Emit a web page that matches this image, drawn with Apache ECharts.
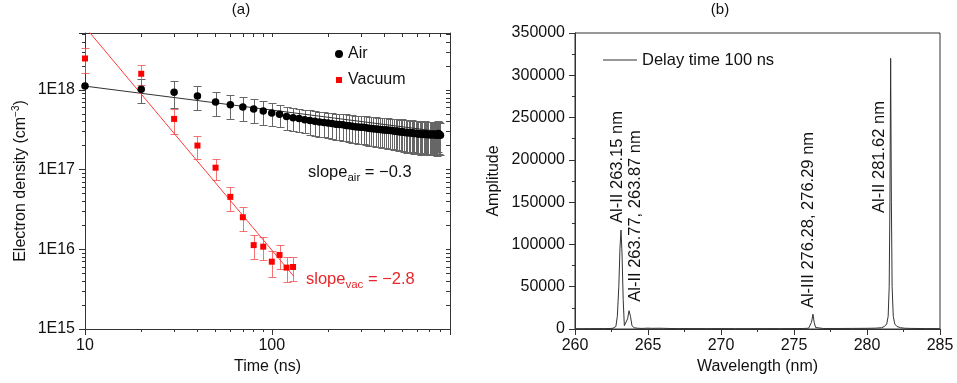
<!DOCTYPE html>
<html><head><meta charset="utf-8">
<script src="https://cdn.jsdelivr.net/npm/echarts@6/dist/echarts.min.js"></script>
<style>html,body{margin:0;padding:0;background:#fff}#c{width:957px;height:383px}</style>
</head><body><div id="c"></div>
<script>
// ---------- Panel (a): electron density vs time ----------
const timesAir = [10,20,30,40,50,60,70,80,90,100,110,120,130,140,150,160,170,180,190,200,
  210,220,230,240,250,260,270,280,290,300,310,320,330,340,350,360,370,380,390,400,
  410,420,430,440,450,460,470,480,490,500,510,520,530,540,550,560,570,580,590,600,
  610,620,630,640,650,660,670,680,690,700,710,720,730,740,750,760,770,780,790,800];
// electron density in units of 1E18 cm^-3
const airDensity18 = [1.12,1.02,0.94,0.84,0.71,0.655,0.613,0.58,0.547,0.516,
  0.497,0.464,0.45,0.438,0.425,0.415,0.405,0.398,0.39,0.385,
  0.38,0.372,0.37,0.366,0.36,0.356,0.352,0.346,0.344,0.34,
  0.34,0.336,0.332,0.33,0.326,0.324,0.322,0.32,0.318,0.316,
  0.314,0.312,0.31,0.31,0.306,0.304,0.305,0.3,0.298,0.3,
  0.296,0.294,0.29,0.293,0.288,0.29,0.286,0.284,0.287,0.282,
  0.28,0.284,0.278,0.28,0.276,0.282,0.278,0.274,0.28,0.276,
  0.272,0.278,0.274,0.28,0.272,0.276,0.27,0.285,0.278,0.27];
const airErr18 = [0,0.34,0.35,0.28,0.24,0.22,0.20,0.19,0.18,0.165,
  0.155,0.145,0.145,0.142,0.14,0.14,0.138,0.138,0.136,0.136,
  0.135,0.135,0.134,0.134,0.134,0.133,0.133,0.132,0.132,0.132,
  0.132,0.131,0.131,0.131,0.13,0.13,0.13,0.13,0.13,0.13,
  0.129,0.129,0.129,0.128,0.128,0.128,0.128,0.127,0.127,0.127,
  0.127,0.126,0.126,0.126,0.125,0.125,0.125,0.125,0.124,0.124,
  0.124,0.124,0.123,0.123,0.123,0.123,0.122,0.122,0.122,0.122,
  0.121,0.121,0.121,0.12,0.12,0.12,0.12,0.12,0.12,0.118];
const timesVac = [10,20,30,40,50,60,70,80,90,100,110,120,130];
// electron density in units of 1E16 cm^-3
const vacDensity16 = [249,160,43.4,20.1,10.6,4.56,2.53,1.13,1.08,0.70,0.85,0.59,0.60];
const vacErr16 = [85,44,15,6.6,3.2,1.5,0.85,0.37,0.35,0.25,0.28,0.2,0.205];
// linear fits (log-log): end points
const fitAirTime = [10, 800];
const fitAirDensity = [1.12e18, 0.30e18];
const fitVacTime = [10, 131];
const fitVacDensity = [6.2e18, 4.6e15];
const xTickMinor = [20,30,40,50,60,70,80,90,200,300,400,500,600,700,800,900];
const xTickMajor = [10,100];
const yTickMajor = [1e15,1e16,1e17,1e18];
const yTickMinor = [2e15,3e15,4e15,5e15,6e15,7e15,8e15,9e15,2e16,3e16,4e16,5e16,6e16,7e16,8e16,9e16,
  2e17,3e17,4e17,5e17,6e17,7e17,8e17,9e17,2e18,3e18,4e18,5e18];

// ---------- Panel (b): spectrum ----------
const wavelength = [260,260.5,261,261.5,262,262.4,262.6,262.8,262.9,263.0,263.08,263.15,263.22,263.3,263.38,263.5,263.6,263.7,263.8,263.9,
  264.05,264.3,264.6,265.0,265.1,265.25,265.8,265.9,266.05,266.5,267,268,269,270,271,272,273,274,275,275.6,
  276.0,276.12,276.2,276.3,276.38,276.48,276.6,277,278,279,280,280.6,281.0,281.2,281.35,281.45,281.52,281.57,281.62,281.67,
  281.72,281.8,281.9,282.05,282.3,282.6,283,284,285];
const amplitude = [300,350,400,450,500,600,900,3000,15000,50000,95000,117000,90000,35000,4000,3500,12000,21600,15000,4000,
  1500,900,700,1000,1500,800,900,1400,800,600,500,500,450,450,400,400,450,450,500,600,
  900,2500,8000,17500,8000,1800,800,600,600,700,800,1000,1500,3000,6000,15000,50000,150000,320000,150000,
  50000,15000,6000,3000,1500,900,700,500,400];
const peakLabels = ['Al-II 263.15 nm','Al-II 263.77, 263.87 nm','Al-III 276.28, 276.29 nm','Al-II 281.62 nm'];

// ---------- build ----------
const FONT = '"Liberation Sans", Arial, sans-serif';
const AX = '#333';
const TXT = '#111';
const Y_MIN = 1e15, Y_MAX = 5.2e18, X_MIN = 10, X_MAX = 900;
const lg = a => a.map(v => Math.log10(v));

const airPts = timesAir.map((t,i) => [t, airDensity18[i]*1e18]);
const airErrPts = timesAir.map((t,i) => [t, airDensity18[i]*1e18, airErr18[i]*1e18]);
const vacPts = timesVac.map((t,i) => [t, vacDensity16[i]*1e16]);
const vacErrPts = timesVac.map((t,i) => [t, vacDensity16[i]*1e16, vacErr16[i]*1e16]);
const fitAir = fitAirTime.map((t,i) => [t, fitAirDensity[i]]);
const fitVac = fitVacTime.map((t,i) => [t, fitVacDensity[i]]);
const spectrum = wavelength.map((w,i) => [w, amplitude[i]]);

function errRender(color, cap) {
  return function (params, api) {
    const x = api.value(0), y = api.value(1), e = api.value(2);
    if (!(e > 0)) return null;
    const lo = Math.max(y - e, Y_MIN * 0.5);
    const p1 = api.coord([x, y + e]);
    const p2 = api.coord([x, lo]);
    const cx = Math.round(p1[0]) + 0.5;
    const y1 = Math.round(p1[1]) + 0.5, y2 = Math.round(p2[1]) + 0.5;
    const hw = cap / 2;
    const st = { stroke: color, lineWidth: 1, fill: null };
    return { type: 'group', children: [
      { type: 'line', shape: { x1: cx, y1: y1, x2: cx, y2: y2 }, style: st },
      { type: 'line', shape: { x1: cx-hw, y1: y1, x2: cx+hw, y2: y1 }, style: st },
      { type: 'line', shape: { x1: cx-hw, y1: y2, x2: cx+hw, y2: y2 }, style: st }
    ]};
  };
}

const lab = { color: TXT, fontSize: 16, fontFamily: FONT };
const noShow = { show: false };

const option = {
  animation: false,
  backgroundColor: '#fff',
  textStyle: { fontFamily: FONT },
  grid: [
    { left: 85, top: 33, width: 365, height: 296, show: false },
    { left: 575, top: 33, width: 365, height: 296, show: true, borderColor: AX, borderWidth: 1, backgroundColor: 'transparent' }
  ],
  xAxis: [
    { // 0: main log time axis
      type: 'log', gridIndex: 0, min: X_MIN, max: X_MAX, position: 'bottom',
      axisLine: { show: true, lineStyle: { color: AX, width: 1 } },
      axisTick: { show: true, inside: false, length: 6, lineStyle: { color: AX } },
      axisLabel: { ...lab, margin: 9, formatter: v => { const l = Math.log10(v); return Math.abs(l - Math.round(l)) < 1e-6 ? String(Math.round(v)) : ''; } },
      splitLine: noShow, minorTick: noShow,
      name: 'Time (ns)', nameLocation: 'middle', nameGap: 29, nameTextStyle: { ...lab }
    },
    { // 1: minor ticks bottom (log10 space)
      type: 'value', gridIndex: 0, min: Math.log10(X_MIN), max: Math.log10(X_MAX), position: 'bottom',
      axisLine: noShow, axisLabel: noShow, splitLine: noShow,
      axisTick: { show: true, inside: false, length: 3, customValues: lg(xTickMinor), lineStyle: { color: AX } }
    },
    { // 2: top mirror
      type: 'value', gridIndex: 0, min: Math.log10(X_MIN), max: Math.log10(X_MAX), position: 'top',
      axisLine: { show: true, lineStyle: { color: AX, width: 1 } }, axisLabel: noShow, splitLine: noShow,
      axisTick: { show: true, inside: true, length: 4, customValues: lg(xTickMajor.concat(xTickMinor)), lineStyle: { color: AX } }
    },
    { // 3: wavelength
      type: 'value', gridIndex: 1, min: 260, max: 285, interval: 5, position: 'bottom',
      axisLine: { show: true, lineStyle: { color: AX, width: 1 } },
      axisTick: { show: true, inside: false, length: 6, lineStyle: { color: AX } },
      minorTick: { show: true, splitNumber: 2, length: 3, lineStyle: { color: AX } },
      axisLabel: { ...lab, margin: 9, formatter: v => String(v) },
      splitLine: noShow,
      name: 'Wavelength (nm)', nameLocation: 'middle', nameGap: 30, nameTextStyle: { ...lab }
    }
  ],
  yAxis: [
    { // 0: main log density axis
      type: 'log', gridIndex: 0, min: Y_MIN, max: Y_MAX, position: 'left',
      axisLine: { show: true, lineStyle: { color: AX, width: 1 } },
      axisTick: { show: true, inside: false, length: 6, lineStyle: { color: AX } },
      axisLabel: { ...lab, margin: 10, formatter: v => { const l = Math.log10(v); return Math.abs(l - Math.round(l)) < 1e-6 ? '1E' + Math.round(l) : ''; } },
      splitLine: noShow, minorTick: noShow,
      name: '{a|Electron density (cm}{b|−3}{a|)}', nameLocation: 'middle', nameGap: 54,
      nameTextStyle: { rich: { a: { ...lab }, b: { color: TXT, fontSize: 10, fontFamily: FONT, padding: [0, 0, 10, 0] } } }
    },
    { // 1: minor ticks left
      type: 'value', gridIndex: 0, min: Math.log10(Y_MIN), max: Math.log10(Y_MAX), position: 'left',
      axisLine: noShow, axisLabel: noShow, splitLine: noShow,
      axisTick: { show: true, inside: false, length: 3, customValues: lg(yTickMinor), lineStyle: { color: AX } }
    },
    { // 2: right mirror
      type: 'value', gridIndex: 0, min: Math.log10(Y_MIN), max: Math.log10(Y_MAX), position: 'right',
      axisLine: { show: true, lineStyle: { color: AX, width: 1 } }, axisLabel: noShow, splitLine: noShow,
      axisTick: { show: true, inside: true, length: 4, customValues: lg(yTickMajor.concat(yTickMinor)), lineStyle: { color: AX } }
    },
    { // 3: amplitude
      type: 'value', gridIndex: 1, min: 0, max: 350000, interval: 50000, position: 'left',
      axisLine: { show: true, lineStyle: { color: AX, width: 1 } },
      axisTick: { show: true, inside: false, length: 6, lineStyle: { color: AX } },
      minorTick: { show: true, splitNumber: 2, length: 3, lineStyle: { color: AX } },
      axisLabel: { ...lab, margin: 10, formatter: v => String(v) },
      splitLine: noShow,
      name: 'Amplitude', nameLocation: 'middle', nameGap: 73, nameTextStyle: { ...lab }
    }
  ],
  legend: [
    {
      left: 330, top: 40, orient: 'vertical', itemGap: 8, itemWidth: 8, itemHeight: 8,
      textStyle: { ...lab, lineHeight: 18 },
      data: [
        { name: 'Air', icon: 'circle' },
        { name: 'Vacuum', icon: 'path://M0,0M8,8M1,1L7,1L7,7L1,7Z' }
      ]
    },
    {
      left: 598, top: 46, itemWidth: 34, itemHeight: 14, itemGap: 6,
      textStyle: { ...lab, fontSize: 16.5, lineHeight: 18 },
      data: [{ name: 'Delay time 100 ns', icon: 'path://M0,0L34,0L34,1L0,1Z' }]
    }
  ],
  series: [
    { name: 'airErr', type: 'custom', xAxisIndex: 0, yAxisIndex: 0, data: airErrPts,
      encode: { x: 0, y: 1 }, renderItem: errRender('#666', 8), z: 1, silent: true },
    { name: 'vacErr', type: 'custom', xAxisIndex: 0, yAxisIndex: 0, data: vacErrPts,
      encode: { x: 0, y: 1 }, renderItem: errRender('rgba(240,70,70,0.75)', 8), z: 1, silent: true },
    { name: 'fitAir', type: 'line', xAxisIndex: 0, yAxisIndex: 0, data: fitAir, showSymbol: false, symbol: 'none',
      lineStyle: { color: '#333', width: 1 }, z: 2, silent: true },
    { name: 'fitVac', type: 'line', xAxisIndex: 0, yAxisIndex: 0, data: fitVac, showSymbol: false, symbol: 'none',
      lineStyle: { color: '#ff3b3b', width: 1 }, z: 2, silent: true },
    { name: 'Air', type: 'scatter', xAxisIndex: 0, yAxisIndex: 0, data: airPts, symbol: 'circle', symbolSize: 7.5,
      itemStyle: { color: '#000', opacity: 1 }, z: 3 },
    { name: 'Vacuum', type: 'scatter', xAxisIndex: 0, yAxisIndex: 0, data: vacPts, symbol: 'rect', symbolSize: 6,
      itemStyle: { color: '#ff0000', opacity: 1 }, z: 3 },
    { name: 'Delay time 100 ns', type: 'line', xAxisIndex: 3, yAxisIndex: 3, data: spectrum, showSymbol: false, symbol: 'none',
      lineStyle: { color: '#333', width: 1 }, itemStyle: { color: '#333' }, z: 3 }
  ],
  graphic: [
    { type: 'text', x: 241, y: 10, style: { text: '(a)', fill: TXT, font: '15px ' + FONT, align: 'center', verticalAlign: 'middle' } },
    { type: 'text', x: 720, y: 10, style: { text: '(b)', fill: TXT, font: '15px ' + FONT, align: 'center', verticalAlign: 'middle' } },
    { type: 'text', x: 308, y: 172, style: {
        text: '{a|slope}{s|air}{a| = −0.3}', fill: TXT, align: 'left', verticalAlign: 'middle',
        rich: { a: { fontSize: 16.5, fontFamily: FONT, fill: TXT, lineHeight: 20 },
                s: { fontSize: 11.5, fontFamily: FONT, fill: TXT, padding: [12, 0, 0, 0] } } } },
    { type: 'text', x: 306, y: 279, style: {
        text: '{a|slope}{s|vac}{a| = −2.8}', fill: '#e8262b', align: 'left', verticalAlign: 'middle',
        rich: { a: { fontSize: 16.5, fontFamily: FONT, fill: '#e8262b', lineHeight: 20 },
                s: { fontSize: 11.5, fontFamily: FONT, fill: '#e8262b', padding: [12, 0, 0, 0] } } } },
    { type: 'text', x: 617, y: 167, rotation: Math.PI / 2, style: { text: peakLabels[0], fill: TXT, font: '16.5px ' + FONT, align: 'center', verticalAlign: 'middle' } },
    { type: 'text', x: 635, y: 216, rotation: Math.PI / 2, style: { text: peakLabels[1], fill: TXT, font: '16.5px ' + FONT, align: 'center', verticalAlign: 'middle' } },
    { type: 'text', x: 808, y: 220, rotation: Math.PI / 2, style: { text: peakLabels[2], fill: TXT, font: '16.5px ' + FONT, align: 'center', verticalAlign: 'middle' } },
    { type: 'text', x: 879, y: 157, rotation: Math.PI / 2, style: { text: peakLabels[3], fill: TXT, font: '16.5px ' + FONT, align: 'center', verticalAlign: 'middle' } }
  ]
};

const chart = echarts.init(document.getElementById('c'), null, { renderer: 'canvas' });
chart.setOption(option);
</script>
</body></html>
